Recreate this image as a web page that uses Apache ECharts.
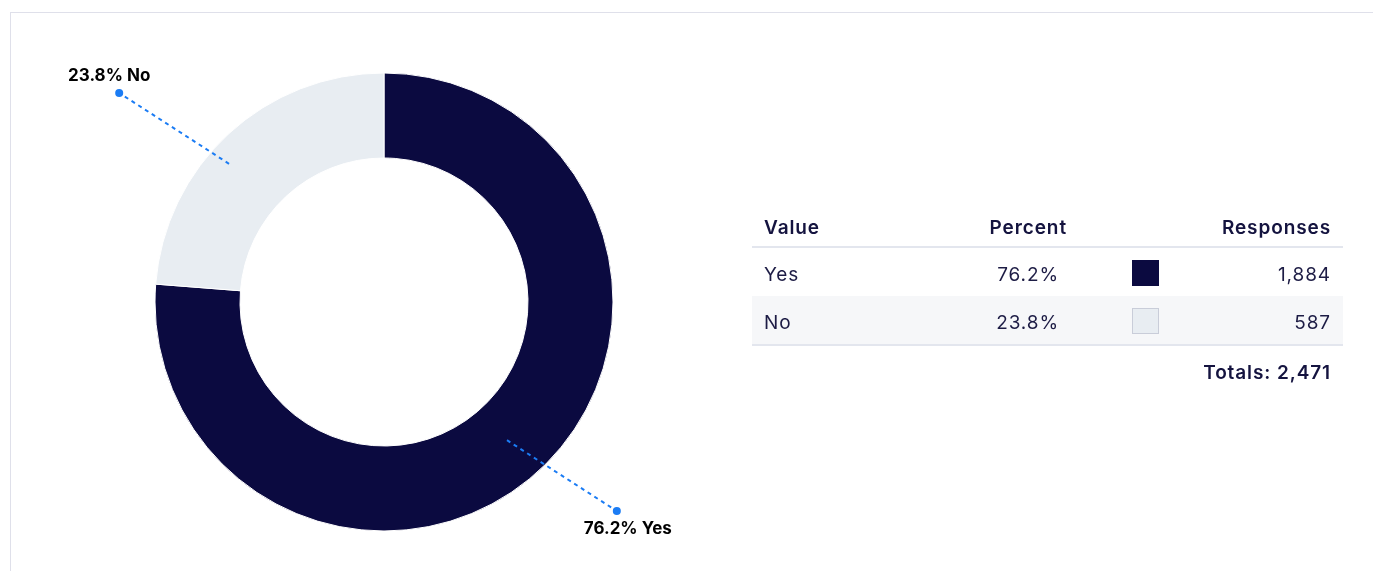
<!DOCTYPE html>
<html>
<head>
<meta charset="utf-8">
<script src="https://cdn.jsdelivr.net/npm/echarts@6/dist/echarts.min.js"></script>
<style>
  html, body { margin: 0; padding: 0; background: #fff; width: 1373px; height: 571px; overflow: hidden; font-family: Inter, "Noto Sans", sans-serif; }
  #card { position: absolute; left: 10px; top: 12px; width: 1400px; height: 600px; border: 1px solid #dfe0ea; box-sizing: border-box; }
  #chart { position: absolute; left: 0; top: 0; width: 1373px; height: 571px; }
  #table { position: absolute; left: 752px; top: 207px; width: 591px; color: #14133f; }
  .row { position: absolute; left: 0; width: 591px; }
  .cell { position: absolute; white-space: nowrap; letter-spacing: 0.9px; }
  .hdr { font-weight: 600; font-size: 19px; }
  .body { font-size: 19px; color: #1d1c45; }
  .sw { position: absolute; width: 27px; height: 26px; box-sizing: border-box; }
</style>
</head>
<body>
<div id="card"></div>
<div id="chart"></div>
<div id="table"></div>
<script>
// ---- data ----
const categories = ['Yes', 'No'];
const responses = [1884, 587];
const tableHeaders = ['Value', 'Percent', 'Responses'];
const totalLabel = 'Totals: ';

// ---- derived ----
const total = responses.reduce((a, b) => a + b, 0);
const percents = responses.map(v => (v / total * 100).toFixed(1) + '%');
const fmt = n => n.toLocaleString('en-US');

const sliceColors = ['#0b0a40', '#e8edf2'];
const swatchBorders = ['#0b0a40', '#c9cdd9'];
const connectorColor = '#1b7cf4';

// mid angles (degrees clockwise from top)
let acc = 0;
const midAngles = responses.map(v => {
  const a = (acc + v / 2) / total * 360;
  acc += v;
  return a;
});

const R_START = 196, R_END = 325, ANG_START = -2.4, ANG_END = -7.2;

const series = [{
  type: 'pie',
  center: [384, 302],
  radius: [144, 229],
  startAngle: 90,
  clockwise: true,
  silent: true,
  label: { show: false },
  labelLine: { show: false },
  itemStyle: { borderColor: '#ffffff', borderWidth: 1 },
  data: categories.map((c, i) => ({ name: c, value: responses[i], itemStyle: { color: sliceColors[i] } }))
}];

categories.forEach((c, i) => {
  const endAng = midAngles[i] + ANG_END;
  const upper = Math.cos(endAng * Math.PI / 180) > 0;
  const left = Math.sin(endAng * Math.PI / 180) < 0;
  series.push({
    type: 'line',
    coordinateSystem: 'polar',
    silent: true,
    symbol: 'none',
    lineStyle: { color: connectorColor, width: 2, type: [4, 4] },
    data: [[R_START, midAngles[i] + ANG_START], [R_END, endAng]],
    z: 5
  });
  series.push({
    type: 'scatter',
    coordinateSystem: 'polar',
    silent: true,
    symbol: 'circle',
    symbolSize: 8,
    itemStyle: { color: connectorColor, opacity: 1 },
    label: {
      show: true,
      position: upper ? 'top' : 'bottom',
      offset: [left ? -10 : 11, 0],
      formatter: percents[i] + ' ' + c,
      fontFamily: 'Inter',
      fontWeight: 700,
      fontSize: 17,
      color: '#000000'
    },
    data: [[R_END, endAng]],
    z: 6
  });
});

const chart = echarts.init(document.getElementById('chart'), null, { renderer: 'canvas' });
chart.setOption({
  animation: false,
  polar: { center: [368, 302], radius: 400 },
  angleAxis: { type: 'value', min: 0, max: 360, startAngle: 90, clockwise: true, show: false },
  radiusAxis: { type: 'value', min: 0, max: 400, show: false },
  series: series
});

// ---- table ----
const t = document.getElementById('table');
let html = '';
html += '<div class="row" style="top:0;height:39px;border-bottom:2px solid #e3e6ee;">' +
  '<div class="cell hdr" style="left:12px;top:9px;">' + tableHeaders[0] + '</div>' +
  '<div class="cell hdr" style="right:276px;top:9px;">' + tableHeaders[1] + '</div>' +
  '<div class="cell hdr" style="right:12px;top:9px;">' + tableHeaders[2] + '</div></div>';
categories.forEach((c, i) => {
  const top = 41 + i * 48;
  const bg = i % 2 === 1 ? 'background:#f6f7f9;' : '';
  const border = i === categories.length - 1 ? 'border-bottom:2px solid #e3e6ee;' : '';
  html += '<div class="row" style="top:' + top + 'px;height:48px;' + bg + border + '">' +
    '<div class="cell body" style="left:12px;top:15px;">' + c + '</div>' +
    '<div class="cell body" style="right:284px;top:15px;">' + percents[i] + '</div>' +
    '<div class="sw" style="left:380px;top:12px;background:' + sliceColors[i] + ';border:1px solid ' + swatchBorders[i] + ';"></div>' +
    '<div class="cell body" style="right:12px;top:15px;">' + fmt(responses[i]) + '</div></div>';
});
html += '<div class="row" style="top:' + (41 + categories.length * 48 + 2) + 'px;height:44px;">' +
  '<div class="cell hdr" style="right:12px;top:15px;">' + totalLabel + fmt(total) + '</div></div>';
t.innerHTML = html;
</script>
</body>
</html>
